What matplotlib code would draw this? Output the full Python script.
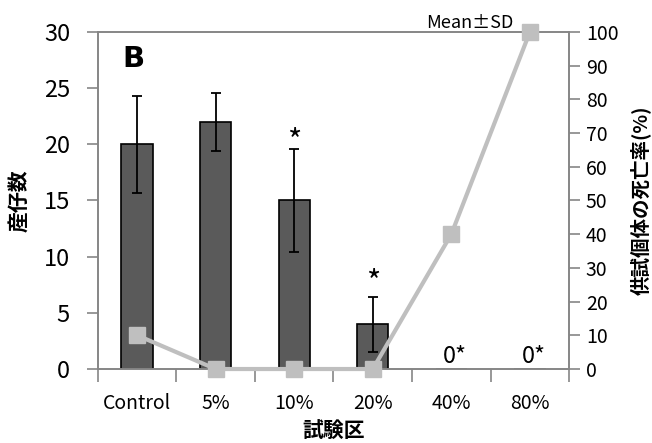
import matplotlib.pyplot as plt
import numpy as np

plt.rcParams['font.family'] = ['Noto Sans CJK JP', 'DejaVu Sans']

groups = ["Control", "5%", "10%", "20%", "40%", "80%"]
pups = [20, 22, 15, 4, 0, 0]
pups_sd = [4.3, 2.6, 4.6, 2.45, 0, 0]
mortality = [10, 0, 0, 0, 40, 100]

x = np.arange(len(groups))
axis_gray = "#868686"

fig = plt.figure(figsize=(6.52, 4.43), dpi=100)
ax = fig.add_axes([0.150, 0.167, 0.723, 0.761])

ax.bar(x, pups, width=0.4, color="#5a5a5a", edgecolor="black", linewidth=1.2, zorder=2)
ax.errorbar(x[:4], pups[:4], yerr=pups_sd[:4], fmt="none", ecolor="black",
            elinewidth=1.3, capsize=3.5, capthick=1.3, zorder=3)

ax.set_xlim(-0.5, 5.5)
ax.set_ylim(0, 30)
ax.set_yticks(range(0, 31, 5))
ax.set_xticks(x)
ax.set_xticklabels(groups)
ax.set_xticks(np.arange(-0.5, 6, 1), minor=True)
ax.tick_params(axis="x", which="major", length=0, pad=17, labelsize=14)
ax.tick_params(axis="x", which="minor", length=9, color=axis_gray, width=1.2)
ax.tick_params(axis="y", length=8, color=axis_gray, width=1.2, labelsize=17, pad=12)

for side in ["left", "bottom", "top", "right"]:
    ax.spines[side].set_color(axis_gray)
    ax.spines[side].set_linewidth(1.2)

ax.set_ylabel("産仔数", fontsize=15, fontweight="bold", labelpad=10)
ax.set_xlabel("試験区", fontsize=15, fontweight="bold", labelpad=5)

# significance marks
ax.text(2, 18.9, "*", ha="center", va="bottom", fontsize=22)
ax.text(3, 6.3, "*", ha="center", va="bottom", fontsize=22)
for i in [4, 5]:
    ax.text(i + 0.05, 0.1, "0*", ha="center", va="bottom", fontsize=17)

ax.text(0.075, 0.92, "B", transform=ax.transAxes, fontsize=21, fontweight="bold",
        ha="center", va="center", family="DejaVu Sans")
ax.text(0.79, 1.0, "Mean±SD", transform=ax.transAxes, fontsize=13, ha="center", va="bottom")

ax2 = ax.twinx()
ax2.plot(x, mortality, color="#bfbfbf", linewidth=3, marker="s", markersize=11,
         markerfacecolor="#bfbfbf", markeredgecolor="#bfbfbf", clip_on=False, zorder=4)
ax2.set_ylim(0, 100)
ax2.set_yticks(range(0, 101, 10))
ax2.tick_params(axis="y", length=8, color=axis_gray, width=1.2, labelsize=14, pad=4)
for side in ["left", "bottom", "top", "right"]:
    ax2.spines[side].set_color(axis_gray)
    ax2.spines[side].set_linewidth(1.2)
ax2.set_ylabel("供試個体の死亡率(%)", fontsize=14, fontweight="bold", labelpad=8)

fig.savefig("out.png", dpi=100)
